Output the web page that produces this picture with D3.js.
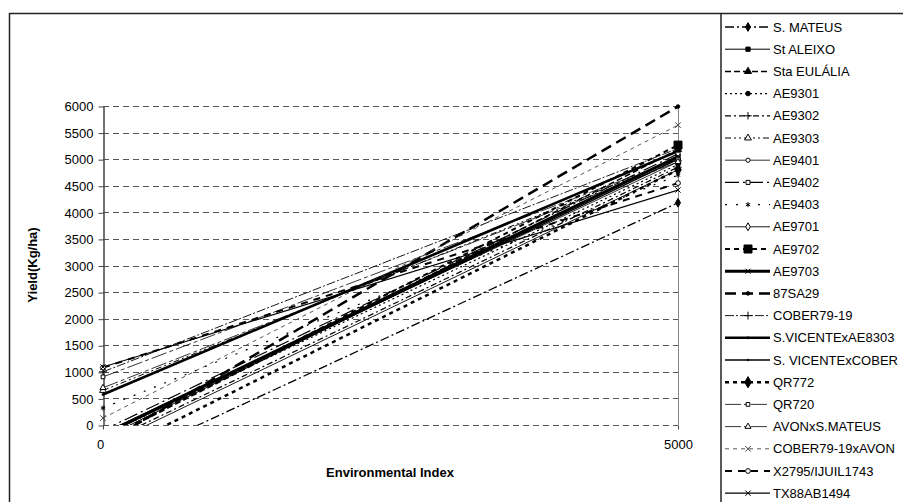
<!DOCTYPE html>
<html>
<head>
<meta charset="utf-8">
<script src="https://cdn.jsdelivr.net/npm/d3@7"></script>
<style>
  body { margin: 0; background: #fff; }
  text { font-family: "Liberation Sans", Arial, sans-serif; }
</style>
</head>
<body>
<svg id="chart" width="903" height="502"></svg>
<script>
// environmental index at the two fitted points
var envIndex = [0, 5000];

var genotypes = ["S. MATEUS", "St ALEIXO", "Sta EULÁLIA", "AE9301", "AE9302", "AE9303",
  "AE9401", "AE9402", "AE9403", "AE9701", "AE9702", "AE9703", "87SA29", "COBER79-19",
  "S.VICENTExAE8303", "S. VICENTExCOBER", "QR772", "QR720", "AVONxS.MATEUS",
  "COBER79-19xAVON", "X2795/IJUIL1743", "TX88AB1494"];

// fitted yield at index 0 and at index 5000
var yieldAt0 = [-830, -250, -300, -200, -350, 650, -150, -100, 320, -400, -280, -180,
  -355, 1000, 575, -200, -600, 905, 700, 130, 1080, 1090];
var yieldAt5000 = [4180, 5050, 5180, 4900, 4850, 5000, 4950, 5100, 4700, 4800, 5265, 5050,
  5990, 5200, 5150, 5000, 4800, 5000, 4950, 5640, 4550, 4420];

var yTicks = d3.range(0, 6001, 500);
var xTicks = [0, 5000];

// line / marker look for each genotype, same order as above
var styles = [
  {dash: "9,3,2,3", w: 1.3, sym: "diamond", fill: "#000", size: 22},
  {dash: null, w: 1, sym: "square", fill: "#000", size: 18},
  {dash: "6,3", w: 1.5, sym: "triangle", fill: "#000", size: 22},
  {dash: "2,3", w: 1.2, sym: "circle", fill: "#000", size: 16},
  {dash: "6,3,2,3", w: 1.2, sym: "plus", fill: "none", size: 20},
  {dash: "6,3,2,3,2,3", w: 1, sym: "triangle", fill: "#fff", size: 20},
  {dash: null, w: 0.8, sym: "circle", fill: "#fff", size: 14},
  {dash: "14,4,2,4", w: 1.2, sym: "square", fill: "#fff", size: 16},
  {dash: "2,9", w: 1.2, sym: "asterisk", fill: "none", size: 18},
  {dash: null, w: 0.9, sym: "diamond", fill: "#fff", size: 18},
  {dash: "5,4", w: 2, sym: "square", fill: "#000", size: 64},
  {dash: null, w: 3, sym: "times", fill: "none", size: 18},
  {dash: "11,6", w: 2.5, sym: "circle", fill: "#000", size: 10},
  {dash: "9,2,2,2", w: 0.9, sym: "plus", fill: "none", size: 22},
  {dash: null, w: 2.6, sym: "circle", fill: "#000", size: 3},
  {dash: null, w: 1.4, sym: "circle", fill: "#000", size: 2},
  {dash: "4,4", w: 2.5, sym: "diamond", fill: "#000", size: 36},
  {dash: "16,3,4,3", w: 0.8, sym: "square", fill: "#fff", size: 14},
  {dash: "16,3,4,3", w: 0.8, sym: "triangle", fill: "#fff", size: 16},
  {dash: "4,4", w: 0.9, sym: "times", fill: "none", size: 22, color: "#444"},
  {dash: "7,6", w: 2, sym: "circle", fill: "#fff", size: 18},
  {dash: null, w: 1.2, sym: "times", fill: "none", size: 20}
];

var symTypes = {
  diamond: d3.symbolDiamond, square: d3.symbolSquare, triangle: d3.symbolTriangle,
  circle: d3.symbolCircle, plus: d3.symbolPlus || d3.symbolCross,
  times: d3.symbolTimes || d3.symbolCross, asterisk: d3.symbolAsterisk || d3.symbolCross
};

var svg = d3.select("#chart");

var x = d3.scaleLinear().domain([0, 5000]).range([103, 678]);
var y = d3.scaleLinear().domain([0, 6000]).range([425, 106]);

// outer chart frame and legend frame
svg.append("path")
  .attr("d", "M9.5,510 V13.5 H910")
  .attr("fill", "none").attr("stroke", "#222").attr("stroke-width", 1.5);
svg.append("line")
  .attr("x1", 721).attr("x2", 721).attr("y1", 13).attr("y2", 510)
  .attr("stroke", "#222").attr("stroke-width", 1.5);

// grid
svg.append("g").selectAll("line")
  .data(yTicks)
  .enter().append("line")
    .attr("x1", x(0)).attr("x2", x(5000))
    .attr("y1", function(d) { return Math.round(y(d)) + 0.5; })
    .attr("y2", function(d) { return Math.round(y(d)) + 0.5; })
    .attr("stroke", "#555")
    .attr("stroke-dasharray", "6,4");

svg.append("line")
  .attr("x1", x(5000) + 0.5).attr("x2", x(5000) + 0.5)
  .attr("y1", y(6000)).attr("y2", y(0))
  .attr("stroke", "#888");

// y axis
var yAxis = svg.append("g")
  .attr("transform", "translate(" + (x(0) + 0.5) + ",0.5)")
  .call(d3.axisLeft(y).tickValues(yTicks).tickSize(5).tickSizeOuter(0)
    .tickFormat(d3.format("d")));
yAxis.select(".domain").attr("stroke", "#444").attr("stroke-width", 1.5);
yAxis.selectAll(".tick line").attr("stroke", "#444");
yAxis.selectAll("text").attr("font-size", 13).attr("fill", "#000")
  .attr("font-family", "Liberation Sans, Arial, sans-serif").attr("dx", "-2");

// x axis labels
var xAxis = svg.append("g")
  .attr("transform", "translate(0," + (y(0) + 0.5) + ")")
  .call(d3.axisBottom(x).tickValues(xTicks).tickSize(4).tickFormat(d3.format("d")));
xAxis.select(".domain").remove();
xAxis.selectAll(".tick line").attr("stroke", "#444");
xAxis.selectAll("text").attr("font-size", 13).attr("fill", "#000")
  .attr("font-family", "Liberation Sans, Arial, sans-serif").attr("dy", "1.3em");
xAxis.selectAll(".tick").filter(function(d) { return d === 0; })
  .select("text").attr("dx", "-3");

svg.append("text")
  .attr("x", 390).attr("y", 477)
  .attr("text-anchor", "middle").attr("font-size", 13).attr("font-weight", "bold")
  .text("Environmental Index");

svg.append("text")
  .attr("transform", "translate(37,265) rotate(-90)")
  .attr("text-anchor", "middle").attr("font-size", 13).attr("font-weight", "bold")
  .text("Yield(Kg/ha)");

// clip lines to plot area
svg.append("defs").append("clipPath")
  .attr("id", "clip")
  .append("rect")
  .attr("x", x(0)).attr("y", y(6000))
  .attr("width", x(5000) - x(0)).attr("height", y(0) - y(6000));

var series = genotypes.map(function(name, i) {
  return {name: name, style: styles[i],
    values: [{e: envIndex[0], v: yieldAt0[i]}, {e: envIndex[1], v: yieldAt5000[i]}]};
});

var line = d3.line()
  .x(function(d) { return x(d.e); })
  .y(function(d) { return y(d.v); });

function drawMarker(sel, s, cx, cy) {
  var sym = d3.symbol().type(symTypes[s.sym]).size(s.size);
  sel.append("path")
    .attr("d", sym())
    .attr("transform", "translate(" + cx + "," + cy + ")")
    .attr("fill", s.fill)
    .attr("stroke", s.color || "#000")
    .attr("stroke-width", 1);
}

var plot = svg.append("g");

plot.append("g")
  .attr("clip-path", "url(#clip)")
  .selectAll("path")
  .data(series)
  .enter().append("path")
    .attr("d", function(d) { return line(d.values); })
    .attr("fill", "none")
    .attr("stroke", function(d) { return d.style.color || "#000"; })
    .attr("stroke-width", function(d) { return d.style.w; })
    .attr("stroke-dasharray", function(d) { return d.style.dash; });

var marks = plot.append("g");
series.forEach(function(d) {
  d.values.forEach(function(p) {
    if (p.v >= 0 && p.v <= 6000) drawMarker(marks, d.style, x(p.e), y(p.v));
  });
});

// legend
var legend = svg.append("g")
  .selectAll("g")
  .data(series)
  .enter().append("g")
    .attr("transform", function(d, i) { return "translate(0," + (27 + i * 22.2) + ")"; });

legend.append("line")
  .attr("x1", 725).attr("x2", 770)
  .attr("stroke", function(d) { return d.style.color || "#000"; })
  .attr("stroke-width", function(d) { return d.style.w; })
  .attr("stroke-dasharray", function(d) { return d.style.dash; });

legend.each(function(d) { drawMarker(d3.select(this), d.style, 748, 0); });

legend.append("text")
  .attr("x", 773).attr("dy", "0.35em")
  .attr("font-size", 13)
  .text(function(d) { return d.name; });
</script>
</body>
</html>
